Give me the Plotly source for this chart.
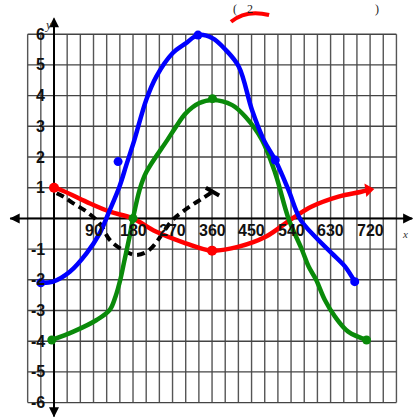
import plotly.graph_objects as go

# Hand-sketched curves on a trig grid (x in degrees)
red_x = [0, 20, 74, 127, 179, 232, 300, 360, 421, 482, 543, 586, 648, 700, 716]
red_y = [1.0, 0.9, 0.54, 0.22, 0.0, -0.43, -0.81, -1.05, -0.92, -0.6, 0.0, 0.38, 0.71, 0.87, 0.93]

blue_x = [-30, -2, 36, 74, 104, 127, 149, 165, 183, 210, 233, 270, 300, 328, 361, 391,
          421, 451, 478, 504, 534, 561, 595, 633, 663, 685]
blue_y = [-2.1, -2.06, -1.74, -1.14, -0.49, 0.27, 1.03, 1.75, 2.55, 3.86, 4.62, 5.38, 5.7, 5.97, 5.87, 5.49,
          4.94, 3.53, 2.55, 1.9, 0.93, -0.03, -0.6, -1.14, -1.57, -2.06]
blue_dot_x = [-30, 146, 328, 504, 685]
blue_dot_y = [-2.1, 1.85, 5.97, 1.9, -2.06]

green_x = [-5, 44, 97, 127, 140, 151, 160, 172, 180, 195, 210, 258, 278, 300, 330, 361,
           406, 436, 474, 504, 534, 565, 580, 597, 617, 640, 670, 712]
green_y = [-3.96, -3.69, -3.31, -2.98, -2.55, -2.0, -1.4, -0.6, 0.0, 0.93, 1.5, 2.55, 2.99, 3.42, 3.75, 3.86,
           3.69, 3.31, 2.55, 1.47, 0.0, -1.03, -1.57, -2.0, -2.66, -3.2, -3.69, -3.96]
green_dot_x = [-5, 180, 361, 712]
green_dot_y = [-3.96, 0.0, 3.9, -3.96]

dash_x = [6, 21, 44, 74, 104, 127, 157, 187, 217, 270, 293, 315, 338, 361]
dash_y = [0.82, 0.71, 0.49, 0.22, -0.16, -0.7, -1.03, -1.19, -1.03, -0.05, 0.22, 0.44, 0.65, 0.87]

x_ticks = [90, 180, 270, 360, 450, 540, 630, 720]
y_ticks = [6, 5, 4, 3, 2, 1, -1, -2, -3, -4, -5, -6]

GRID_X = list(range(-60, 781, 30))
GRID_Y = list(range(-6, 7))

X_RANGE = [-123.0, 820.0]
Y_RANGE = [-6.502, 7.114]

RED = "#ff0000"
BLUE = "#0000ff"
GREEN = "#0a8a0a"

fig = go.Figure()

shapes = []
for gx in GRID_X:
    shapes.append(dict(type="line", x0=gx, x1=gx, y0=-6, y1=6, layer="below",
                       line=dict(color="#555555", width=1.4)))
for gy in GRID_Y:
    shapes.append(dict(type="line", x0=-60, x1=780, y0=gy, y1=gy, layer="below",
                       line=dict(color="#444444", width=1.4)))
# main axes
shapes.append(dict(type="line", x0=-100, x1=816, y0=0, y1=0, layer="below",
                   line=dict(color="#000000", width=2)))
shapes.append(dict(type="line", x0=0, x1=0, y0=-6.45, y1=6.5, layer="below",
                   line=dict(color="#000000", width=2)))
# red stroke near the top
shapes.append(dict(type="path", xref="paper", yref="paper",
                   path="M 0.558,0.948 Q 0.595,0.978 0.650,0.964",
                   line=dict(color=RED, width=4)))

fig.add_trace(go.Scatter(x=dash_x, y=dash_y, mode="lines",
                         line=dict(color="#000000", width=4, dash="8px,5px", shape="spline"),
                         hoverinfo="skip"))
fig.add_trace(go.Scatter(x=[dash_x[-1]], y=[dash_y[-1]], mode="markers",
                         marker=dict(symbol="line-ns", size=11, angle=-60,
                                     line=dict(color="#000000", width=4)),
                         hoverinfo="skip"))

fig.add_trace(go.Scatter(x=red_x, y=red_y, mode="lines",
                         line=dict(color=RED, width=4.5, shape="spline"), hoverinfo="skip"))
fig.add_trace(go.Scatter(x=[red_x[0], 360], y=[red_y[0], -1.05], mode="markers",
                         marker=dict(color=RED, size=10), hoverinfo="skip"))
fig.add_trace(go.Scatter(x=[red_x[-1]], y=[red_y[-1]], mode="markers",
                         marker=dict(color=RED, size=12, symbol="triangle-right", angle=-8),
                         hoverinfo="skip"))

fig.add_trace(go.Scatter(x=green_x, y=green_y, mode="lines",
                         line=dict(color=GREEN, width=4.5, shape="spline"), hoverinfo="skip"))
fig.add_trace(go.Scatter(x=green_dot_x, y=green_dot_y, mode="markers",
                         marker=dict(color=GREEN, size=9), hoverinfo="skip"))

fig.add_trace(go.Scatter(x=blue_x, y=blue_y, mode="lines",
                         line=dict(color=BLUE, width=4.5, shape="spline"), hoverinfo="skip"))
fig.add_trace(go.Scatter(x=blue_dot_x, y=blue_dot_y, mode="markers",
                         marker=dict(color=BLUE, size=9), hoverinfo="skip"))

annotations = []
tick_font = dict(family="Liberation Sans, Arial, sans-serif", size=16, color="#111111")
for t in x_ticks:
    annotations.append(dict(x=t, y=-0.38, text=f"<b>{t}</b>", showarrow=False,
                            xanchor="center", yanchor="middle", font=tick_font))
for t in y_ticks:
    annotations.append(dict(x=-15, y=t, text=f"<b>{t}</b>", showarrow=False,
                            xanchor="right", yanchor="middle", font=tick_font))

# arrow heads on the axes
for (tx, ty, ax, ay) in [(818, 0, -10, 0), (-101, 0, 10, 0), (0, 6.55, 0, 10), (0, -6.48, 0, -10)]:
    annotations.append(dict(x=tx, y=ty, ax=ax, ay=ay, showarrow=True, arrowhead=2,
                            arrowsize=1.0, arrowwidth=2, arrowcolor="#000000", text=""))

annotations.append(dict(x=42 / 414, y=1 - 15 / 418, xref="paper", yref="paper", text="<i>y</i>",
                        showarrow=False, font=dict(family="Liberation Serif, serif", size=13, color="#333")))
annotations.append(dict(x=410 / 414, y=1 - 234 / 418, xref="paper", yref="paper", text="<i>x</i>",
                        showarrow=False, font=dict(family="Liberation Serif, serif", size=11, color="#333")))

# expression fragment along the top edge
top_font = dict(family="Liberation Serif, serif", size=12, color="#222222")
for txt, px in [("(", 235), ("2", 250), (")", 377)]:
    annotations.append(dict(x=px / 414, y=1 - 9.5 / 418, xref="paper", yref="paper", text=txt,
                            showarrow=False, xanchor="center", yanchor="middle", font=top_font))

fig.update_layout(
    width=414, height=418,
    margin=dict(l=0, r=0, t=0, b=0),
    paper_bgcolor="white", plot_bgcolor="white",
    showlegend=False,
    xaxis=dict(range=X_RANGE, visible=False, fixedrange=True),
    yaxis=dict(range=Y_RANGE, visible=False, fixedrange=True),
    shapes=shapes,
    annotations=annotations,
)

fig.write_html("out.html")
